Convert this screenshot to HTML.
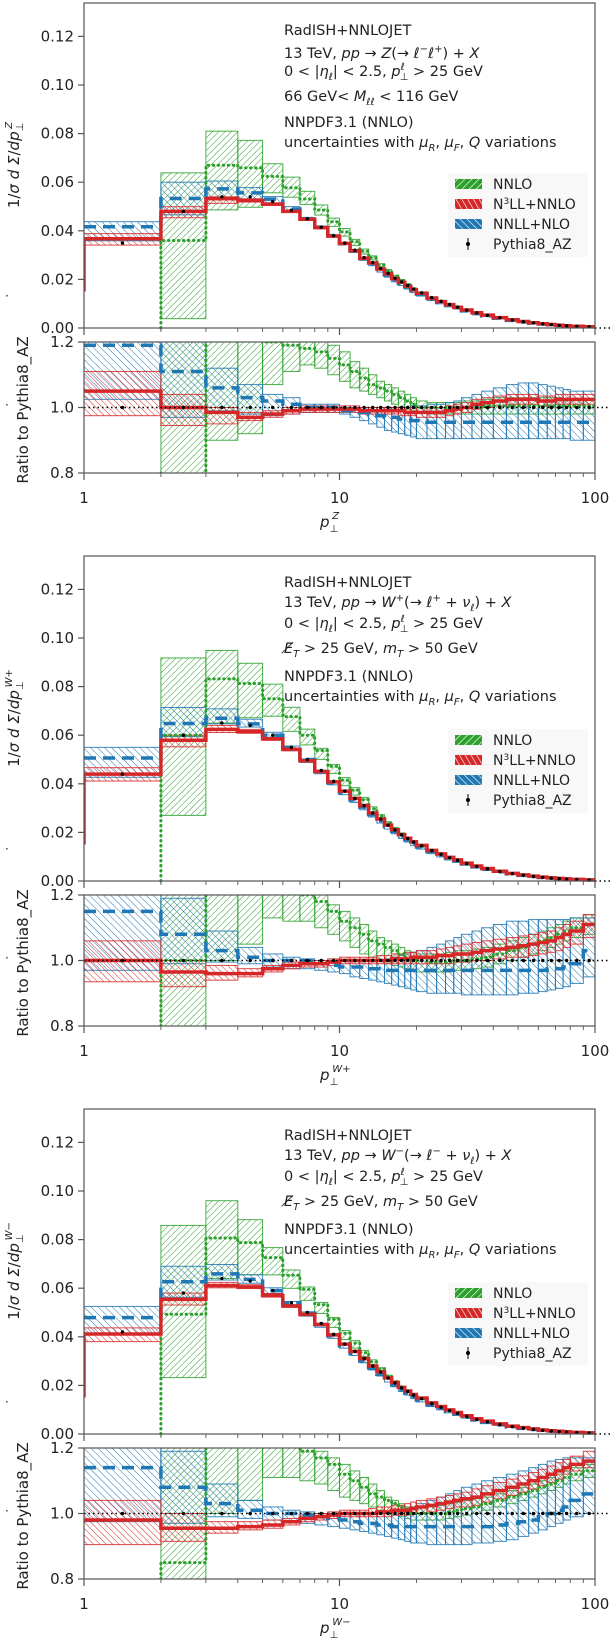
<!DOCTYPE html>
<html><head><meta charset="utf-8">
<style>
html,body{margin:0;padding:0;background:#fff;}
svg{display:block;font-family:"DejaVu Sans","Liberation Sans",sans-serif;}
</style></head>
<body>
<svg id="fig" width="610" height="1638" viewBox="0 0 610 1638" xmlns="http://www.w3.org/2000/svg">
<defs>
<pattern id="hg" width="4.5" height="4.5" patternUnits="userSpaceOnUse" patternTransform="rotate(45)"><line x1="0" y1="0" x2="0" y2="4.5" stroke="#2ca02c" stroke-width="1"/></pattern>
<pattern id="hr" width="4.5" height="4.5" patternUnits="userSpaceOnUse" patternTransform="rotate(-45)"><line x1="0" y1="0" x2="0" y2="4.5" stroke="#d62728" stroke-width="1"/></pattern>
<pattern id="hb" width="5" height="5" patternUnits="userSpaceOnUse" patternTransform="rotate(-45)"><line x1="0" y1="0" x2="0" y2="5" stroke="#1f77b4" stroke-width="1"/></pattern>
<pattern id="lg" width="5" height="5" patternUnits="userSpaceOnUse" patternTransform="rotate(45)"><rect width="5" height="5" fill="#2ca02c"/><line x1="0" y1="0" x2="0" y2="5" stroke="#fff" stroke-width="1.3"/></pattern>
<pattern id="lr" width="5" height="5" patternUnits="userSpaceOnUse" patternTransform="rotate(-30)"><rect width="5" height="5" fill="#d62728"/><line x1="0" y1="0" x2="0" y2="5" stroke="#fff" stroke-width="1.3"/></pattern>
<pattern id="lb" width="5" height="5" patternUnits="userSpaceOnUse" patternTransform="rotate(-45)"><rect width="5" height="5" fill="#1f77b4"/><line x1="0" y1="0" x2="0" y2="5" stroke="#fff" stroke-width="1.3"/></pattern>
</defs>
</svg>
<script>
// ---- data ----
const binEdges=[1,2,3,4,5,6,7,8,9,10,11,12,13,14,15,16,17,18,19,20,22,24,26,28,30,33,36,40,45,50,55,60,65,70,75,80,90,100];
const yTicks=[0,0.02,0.04,0.06,0.08,0.10,0.12];
const yTickLabels=["0.00","0.02","0.04","0.06","0.08","0.10","0.12"];
const rTicks=[0.8,1.0,1.2];
const rTickLabels=["0.8","1.0","1.2"];
const xTicks=[1,10,100];
const xTickLabels=["1","10","100"];

// Z panel
const pyZ=[.035,.048,.054,.054,.052,.0485,.045,.0415,.038,.035,.032,.029,.027,.0245,.0225,.0205,.019,.0175,.016,.0145,.0125,.011,.0097,.0086,.0074,.0062,.0052,.0042,.0033,.0026,.0021,.0017,.0014,.0011,.0009,.0007,.0005];
const redZ=[1.05,1.0,.985,.97,.98,.99,.995,.995,.995,.995,.995,.99,.99,.99,.99,.99,.99,.985,.985,.985,.985,.985,.99,.995,1.0,1.01,1.015,1.02,1.025,1.025,1.025,1.02,1.02,1.025,1.025,1.025,1.025];
const redZlo=[.975,.945,.95,.96,.97,.98,.985,.985,.985,.985,.985,.98,.98,.98,.98,.98,.975,.975,.975,.97,.97,.97,.975,.98,.985,.995,1.0,1.005,1.01,1.01,1.01,1.005,1.005,1.01,1.01,1.01,1.01];
const redZhi=[1.11,1.04,1.0,.985,.99,1.0,1.005,1.005,1.005,1.005,1.005,1.0,1.0,1.0,1.0,1.0,1.0,1.0,1.0,1.0,1.0,1.0,1.005,1.01,1.015,1.025,1.03,1.035,1.04,1.04,1.04,1.035,1.035,1.04,1.04,1.04,1.04];
const bluZ=[1.19,1.11,1.06,1.03,1.02,1.01,1.0,1.0,1.0,.99,.99,.985,.98,.975,.97,.97,.965,.965,.96,.96,.955,.955,.955,.955,.955,.955,.955,.955,.955,.955,.955,.955,.955,.955,.955,.955,.955];
const bluZlo=[1.025,.97,.99,.98,.975,.98,.985,.985,.985,.98,.97,.96,.95,.94,.93,.925,.92,.915,.91,.905,.905,.905,.905,.905,.905,.905,.905,.905,.905,.905,.905,.905,.905,.905,.905,.9,.9];
const bluZhi=[1.25,1.25,1.12,1.07,1.04,1.03,1.01,1.01,1.01,1.0,1.0,1.0,1.0,1.0,1.0,1.0,1.0,1.0,1.005,1.005,1.01,1.01,1.015,1.02,1.03,1.04,1.05,1.06,1.07,1.075,1.075,1.07,1.065,1.06,1.055,1.05,1.05];
const grnZ=[null,.75,1.24,1.22,1.2,1.19,1.18,1.17,1.15,1.13,1.11,1.09,1.07,1.06,1.05,1.04,1.03,1.02,1.01,1.0,1.0,1.0,1.0,1.0,1.0,1.0,1.005,1.005,1.005,1.005,1.005,1.005,1.005,1.005,1.005,1.005,1.005];
const grnZlo=[null,.08,.9,.92,1.07,1.11,1.13,1.12,1.1,1.08,1.06,1.05,1.04,1.03,1.02,1.01,1.0,.995,.99,.985,.98,.98,.98,.98,.98,.98,.98,.98,.98,.98,.98,.98,.98,.98,.98,.98,.98];
const grnZhi=[null,1.33,1.5,1.43,1.3,1.28,1.25,1.22,1.19,1.17,1.14,1.12,1.1,1.08,1.07,1.06,1.05,1.04,1.03,1.02,1.015,1.015,1.015,1.015,1.02,1.02,1.025,1.03,1.03,1.03,1.03,1.03,1.03,1.03,1.025,1.025,1.025];

// W+ panel
const pyWp=[.044,.06,.065,.064,.06,.055,.05,.0455,.041,.037,.034,.031,.028,.0255,.023,.021,.019,.0175,.016,.0145,.0125,.011,.0096,.0085,.0072,.006,.005,.0039,.003,.0024,.0019,.0015,.0012,.001,.0008,.0006,.0004];
const redWp=[1.0,.965,.96,.96,.975,.985,.99,.99,.995,1.0,1.0,1.0,1.0,1.0,1.0,1.005,1.005,1.005,1.01,1.01,1.01,1.015,1.015,1.02,1.02,1.025,1.03,1.035,1.04,1.045,1.05,1.055,1.06,1.07,1.08,1.09,1.11];
const redWplo=[.935,.92,.94,.95,.965,.975,.98,.98,.985,.99,.99,.99,.99,.99,.99,.99,.99,.99,.99,.99,.99,.99,.99,.995,.995,1.0,1.0,1.005,1.01,1.01,1.015,1.02,1.025,1.03,1.04,1.05,1.07];
const redWphi=[1.06,1.0,.985,.975,.985,.995,1.0,1.0,1.005,1.01,1.01,1.01,1.01,1.015,1.015,1.02,1.02,1.025,1.025,1.03,1.03,1.035,1.04,1.045,1.05,1.055,1.06,1.065,1.07,1.075,1.08,1.085,1.09,1.1,1.11,1.12,1.14];
const bluWp=[1.15,1.08,1.03,1.01,1.0,1.0,1.0,.99,.985,.98,.98,.98,.975,.975,.97,.97,.97,.97,.97,.97,.97,.97,.97,.97,.97,.97,.97,.97,.97,.97,.97,.97,.975,.975,.98,.99,1.03];
const bluWplo=[.97,.99,.995,.99,.98,.975,.975,.97,.965,.96,.95,.945,.94,.935,.93,.925,.92,.915,.91,.905,.9,.9,.9,.9,.895,.895,.895,.895,.895,.9,.9,.905,.91,.915,.92,.93,.95];
const bluWphi=[1.25,1.19,1.09,1.04,1.02,1.01,1.005,1.0,1.0,1.0,1.0,1.0,1.0,1.0,1.005,1.01,1.015,1.02,1.025,1.03,1.04,1.05,1.06,1.07,1.08,1.09,1.1,1.11,1.12,1.12,1.125,1.125,1.125,1.125,1.125,1.13,1.13];
const grnWp=[null,1.0,1.28,1.27,1.25,1.23,1.2,1.18,1.15,1.12,1.1,1.08,1.06,1.05,1.04,1.03,1.02,1.01,1.0,1.0,.995,.995,.995,1.0,1.0,1.005,1.01,1.02,1.03,1.04,1.05,1.06,1.07,1.08,1.09,1.1,1.11];
const grnWplo=[null,.45,1.0,1.05,1.13,1.12,1.12,1.1,1.08,1.06,1.04,1.02,1.01,1.0,.99,.985,.98,.975,.97,.965,.965,.965,.965,.97,.97,.975,.98,.99,1.0,1.01,1.02,1.03,1.04,1.05,1.06,1.07,1.08];
const grnWphi=[null,1.53,1.46,1.4,1.35,1.3,1.25,1.2,1.17,1.15,1.13,1.11,1.09,1.07,1.06,1.05,1.04,1.03,1.025,1.02,1.02,1.02,1.025,1.03,1.03,1.035,1.04,1.05,1.06,1.07,1.08,1.09,1.1,1.11,1.12,1.13,1.14];

// W- panel
const pyWm=[.042,.058,.064,.063,.059,.054,.05,.0455,.041,.037,.034,.031,.028,.0255,.023,.021,.019,.0175,.016,.0145,.0125,.011,.0096,.0085,.0072,.006,.005,.0039,.003,.0024,.0019,.0015,.0012,.001,.0008,.0006,.0004];
const redWm=[.98,.955,.955,.96,.965,.975,.985,.99,.995,1.0,1.0,1.0,1.0,1.005,1.005,1.01,1.01,1.01,1.015,1.02,1.025,1.03,1.035,1.04,1.045,1.05,1.06,1.07,1.08,1.09,1.1,1.11,1.12,1.13,1.14,1.15,1.16];
const redWmlo=[.905,.915,.94,.95,.955,.965,.975,.98,.985,.99,.99,.99,.99,.99,.99,.995,.995,.995,1.0,1.0,1.005,1.01,1.015,1.02,1.02,1.025,1.035,1.045,1.055,1.065,1.075,1.085,1.095,1.105,1.12,1.13,1.14];
const redWmhi=[1.04,1.0,.975,.975,.98,.985,.995,1.0,1.005,1.01,1.01,1.01,1.015,1.02,1.02,1.025,1.025,1.03,1.035,1.04,1.045,1.05,1.055,1.06,1.065,1.075,1.085,1.095,1.105,1.115,1.125,1.135,1.145,1.155,1.165,1.175,1.19];
const bluWm=[1.14,1.08,1.03,1.01,1.0,1.0,.995,.99,.985,.98,.975,.97,.97,.965,.965,.96,.96,.96,.96,.96,.96,.96,.96,.96,.96,.96,.96,.965,.97,.975,.98,.99,1.0,1.01,1.02,1.04,1.06];
const bluWmlo=[.975,.97,.99,.985,.98,.975,.97,.965,.96,.955,.95,.945,.94,.935,.93,.925,.92,.915,.91,.91,.905,.905,.905,.905,.905,.91,.91,.915,.92,.93,.94,.95,.96,.97,.98,.99,1.0];
const bluWmhi=[1.25,1.19,1.09,1.04,1.02,1.01,1.005,1.0,1.0,1.0,1.0,1.0,1.0,1.0,1.0,1.005,1.01,1.015,1.02,1.03,1.04,1.05,1.06,1.07,1.08,1.09,1.1,1.11,1.12,1.13,1.14,1.15,1.16,1.165,1.17,1.17,1.17];
const grnWm=[null,.85,1.26,1.25,1.23,1.21,1.19,1.17,1.15,1.12,1.1,1.08,1.06,1.05,1.04,1.03,1.02,1.01,1.0,1.0,1.0,1.0,1.005,1.01,1.015,1.02,1.03,1.04,1.05,1.06,1.07,1.08,1.09,1.1,1.11,1.12,1.13];
const grnWmlo=[null,.4,1.0,1.04,1.11,1.11,1.1,1.09,1.07,1.05,1.04,1.03,1.02,1.01,1.0,.995,.99,.985,.98,.98,.98,.98,.985,.99,.995,1.0,1.01,1.02,1.03,1.04,1.05,1.06,1.07,1.08,1.09,1.1,1.11];
const grnWmhi=[null,1.48,1.5,1.4,1.3,1.25,1.21,1.19,1.17,1.15,1.13,1.11,1.09,1.07,1.05,1.04,1.03,1.02,1.02,1.02,1.02,1.025,1.03,1.035,1.04,1.045,1.05,1.06,1.07,1.08,1.09,1.1,1.11,1.12,1.13,1.14,1.15];

// ---- drawing ----
const NS="http://www.w3.org/2000/svg";
const svg=document.getElementById('fig');
function el(tag,attrs,parent){const e=document.createElementNS(NS,tag);for(const k in attrs)e.setAttribute(k,attrs[k]);(parent||svg).appendChild(e);return e;}
const X0=84,X1=595;
function xs(v){return X0+(X1-X0)*Math.log10(v)/2;}

function stepPath(vals,fy,startY){
  let d='';let open=false;
  for(let i=0;i<vals.length;i++){
    if(vals[i]==null){open=false;continue;}
    const xa=xs(binEdges[i]),xb=xs(binEdges[i+1]),y=fy(vals[i]);
    if(!open){d+=(startY!=null?`M${xa},${startY}L${xa},${y}`:`M${xa},${y}`);open=true;}
    else d+=`L${xa},${y}`;
    d+=`L${xb},${y}`;
  }
  return d;
}

function drawPanel(o,py,series,annot,xlabelSup,ytSup,lgOff){
  const g=el('g',{});
  
  
  const uT=o+3,uB=o+328,lT=o+342,lB=o+473;
  const yu=v=>uB-(v/0.02)*48.6;
  const yr=v=>lB-(v-0.8)/0.4*(lB-lT);
  const cid='c'+o;
  const cp=el('clipPath',{id:cid},g);el('rect',{x:X0,y:lT,width:X1-X0,height:lB-lT},cp);
  const cu='u'+o;
  const cp2=el('clipPath',{id:cu},g);el('rect',{x:X0,y:uT,width:X1-X0,height:uB-uT+2},cp2);
  const up=el('g',{'clip-path':`url(#${cu})`},g);
  const lo=el('g',{'clip-path':`url(#${cid})`},g);
  series.forEach(s=>{
    for(let i=0;i<binEdges.length-1;i++){
      if(s.lo[i]==null)continue;
      const xa=xs(binEdges[i]),xb=xs(binEdges[i+1]);
      const a=el('rect',{x:xa,y:yu(py[i]*s.hi[i]),width:xb-xa,height:Math.max(0.5,yu(py[i]*s.lo[i])-yu(py[i]*s.hi[i])),fill:`url(#${s.pat})`,stroke:s.col,'stroke-width':1,'stroke-opacity':0.85},up);
      
      
      const b=el('rect',{x:xa,y:yr(s.hi[i]),width:xb-xa,height:Math.max(0.5,yr(s.lo[i])-yr(s.hi[i])),fill:`url(#${s.pat})`,stroke:s.col,'stroke-width':1,'stroke-opacity':0.85},lo);
      
      
    }
  });
  series.forEach(s=>{
    const uv=s.c.map((v,i)=>v==null?null:v*py[i]);
    const st=s.name==='nnlo'?uB:(s.name==='n3ll'?yu(0.015):null);
    const p=el('path',{d:stepPath(uv,yu,st),fill:'none',stroke:s.col,'stroke-width':s.w,'stroke-dasharray':s.dash||'none','stroke-linecap':s.name==='nnlo'?'round':'butt'},up);
    
    
    const q=el('path',{d:stepPath(s.c,yr,s.name==='nnlo'?lB:null),fill:'none',stroke:s.col,'stroke-width':s.w,'stroke-dasharray':s.dash||'none','stroke-linecap':s.name==='nnlo'?'round':'butt'},lo);
    
    
  });
  const rl=el('line',{x1:X0,x2:610,y1:yr(1),y2:yr(1),stroke:'#000','stroke-width':1.5,'stroke-dasharray':'1.5,3'},g);
  
  
  const zl=el('line',{x1:X1,x2:610,y1:uB,y2:uB,stroke:'#000','stroke-width':1.5,'stroke-dasharray':'1.5,3'},g);
  
  
  for(let i=0;i<py.length;i++){
    const xm=xs(Math.sqrt(binEdges[i]*binEdges[i+1]));
    const d=el('circle',{cx:xm,cy:yu(py[i]),r:1.7,fill:'#000'},g);
    
    
    const d2=el('circle',{cx:xm,cy:yr(1),r:1.7,fill:'#000'},g);
    
    
  }
  [[uT,uB],[lT,lB]].forEach(([t,b],k)=>{
    const f=el('rect',{x:X0,y:t,width:X1-X0,height:b-t,fill:'none',stroke:'#555','stroke-width':1.2},g);
    
    
    for(let dec=0;dec<2;dec++)for(let m=1;m<=10;m++){
      const v=Math.pow(10,dec)*m; if(m===10&&dec===0)continue;
      const major=(m===1||(m===10));
      el('line',{x1:xs(v),x2:xs(v),y1:b,y2:b+(major?7:4),stroke:'#555','stroke-width':major?1.2:0.9},g);
    }
  });
  yTicks.forEach((v,i)=>{
    el('line',{x1:X0-6,x2:X0,y1:yu(v),y2:yu(v),stroke:'#555','stroke-width':1.2},g);
    const t=el('text',{x:74,y:yu(v)+5,'text-anchor':'end','font-size':15,fill:'#222'},g);
    t.textContent=yTickLabels[i];
    
    
  });
  rTicks.forEach((v,i)=>{
    el('line',{x1:X0-6,x2:X0,y1:yr(v),y2:yr(v),stroke:'#555','stroke-width':1.2},g);
    const t=el('text',{x:74,y:yr(v)+5,'text-anchor':'end','font-size':15,fill:'#222'},g);
    t.textContent=rTickLabels[i];
    
    
  });
  xTicks.forEach((v,i)=>{
    const t=el('text',{x:xs(v),y:o+503,'text-anchor':'middle','font-size':15,fill:'#222'},g);
    t.textContent=xTickLabels[i];
    
    
  });
  const yt=el('text',{transform:`translate(19,${o+165}) rotate(-90)`,'text-anchor':'middle','font-size':15,fill:'#222'},g);
  yt.innerHTML=`1/<tspan font-style="italic">σ d Σ</tspan>/<tspan font-style="italic">dp</tspan><tspan font-size="10" baseline-shift="-4">⊥</tspan><tspan font-size="10" dx="-6" baseline-shift="7" font-style="italic">${ytSup}</tspan>`;
  
  
  const rt=el('text',{transform:`translate(28,${o+410}) rotate(-90)`,'text-anchor':'middle','font-size':15,fill:'#222'},g);
  rt.textContent='Ratio to Pythia8_AZ';
  
  
  const xt=el('text',{x:320,y:o+527,'font-size':15,fill:'#222','font-style':'italic'},g);
  xt.innerHTML=`p<tspan font-size="10" baseline-shift="-5" font-style="normal">⊥</tspan><tspan font-size="10" dx="-6" baseline-shift="8">${xlabelSup}</tspan>`;
  
  
  [[o+300],[o+409]].forEach(([yy])=>{const d=el('text',{x:5,y:yy,'font-size':12,fill:'#222'},g);d.textContent='·';});
  annot.forEach(([dy,html])=>{
    const t=el('text',{x:284,y:o+dy,'font-size':14.5,fill:'#222'},g);
    t.innerHTML=html;
    
    
  });
  const lgY=o+lgOff;
  const lb=el('rect',{x:448,y:lgY,width:140,height:84,fill:'#f7f7f7','fill-opacity':0.9,rx:2},g);
  
  
  const ents=[['lg','NNLO'],['lr','N<tspan font-size="9" baseline-shift="5">3</tspan>LL+NNLO'],['lb','NNLL+NLO']];
  ents.forEach(([p,lab],i)=>{
    const yy=lgY+11+i*20;
    const r=el('rect',{x:455,y:yy-5,width:27,height:10,fill:`url(#${p})`},g);
    
    
    const t=el('text',{x:493,y:yy+5,'font-size':14,fill:'#222'},g);
    t.innerHTML=lab;
    
    
  });
  const yy=lgY+71;
  el('line',{x1:468,x2:468,y1:yy-6,y2:yy+6,stroke:'#000','stroke-width':1},g);
  el('circle',{cx:468,cy:yy,r:2,fill:'#000'},g);
  const pt=el('text',{x:493,y:yy+5,'font-size':14,fill:'#222'},g);
  pt.textContent='Pythia8_AZ';
  
  
}

function mk(py,gc,gl,gh,rc,rl,rh,bc,bl,bh){
  return [
    {name:'nnlo',c:gc,lo:gl,hi:gh,pat:'hg',col:'#2ca02c',w:3,dash:'0.5,4.5'},
    {name:'nnll',c:bc,lo:bl,hi:bh,pat:'hb',col:'#1f77b4',w:3.5,dash:'12,7'},
    {name:'n3ll',c:rc,lo:rl,hi:rh,pat:'hr',col:'#d62728',w:3.5}
  ];
}
const I=s=>`<tspan font-style="italic">${s}</tspan>`;
const sub=s=>`<tspan font-size="10" baseline-shift="-4">${s}</tspan>`;
const sup=s=>`<tspan font-size="10" baseline-shift="6">${s}</tspan>`;
const common2=`0 &lt; |${I('η')}${sub(I('ℓ'))}| &lt; 2.5, ${I('p')}${sup(I('ℓ'))}<tspan font-size="10" dx="-5" baseline-shift="-4">⊥</tspan> &gt; 25 GeV`;
const unc=`uncertainties with ${I('μ')}${sub(I('R'))}, ${I('μ')}${sub(I('F'))}, ${I('Q')} variations`;

drawPanel(0,pyZ,mk(pyZ,grnZ,grnZlo,grnZhi,redZ,redZlo,redZhi,bluZ,bluZlo,bluZhi),[
 [35,'RadISH+NNLOJET'],
 [58,`13 TeV, ${I('pp')} → ${I('Z')}(→ ${I('ℓ')}${sup('−')}${I('ℓ')}${sup('+')}) + ${I('X')}`],
 [76,common2],
 [101,`66 GeV&lt; ${I('M')}${sub(I('ℓℓ'))} &lt; 116 GeV`],
 [127,'NNPDF3.1 (NNLO)'],
 [147,unc]
],'Z','Z',173);

const wAnn=(sgn)=>[
 [34,'RadISH+NNLOJET'],
 [54,`13 TeV, ${I('pp')} → ${I('W')}${sup(sgn)}(→ ${I('ℓ')}${sup(sgn)} + ${I('ν')}${sub(I('ℓ'))}) + ${I('X')}`],
 [75,common2],
 [100,`${I('E̸')}${sub(I('T'))} &gt; 25 GeV, ${I('m')}${sub(I('T'))} &gt; 50 GeV`],
 [128,'NNPDF3.1 (NNLO)'],
 [148,unc]
];
drawPanel(553,pyWp,mk(pyWp,grnWp,grnWplo,grnWphi,redWp,redWplo,redWphi,bluWp,bluWplo,bluWphi),wAnn('+'),'W+','W+',176);
drawPanel(1106,pyWm,mk(pyWm,grnWm,grnWmlo,grnWmhi,redWm,redWmlo,redWmhi,bluWm,bluWmlo,bluWmhi),wAnn('−'),'W−','W−',176);
</script>
</body></html>
